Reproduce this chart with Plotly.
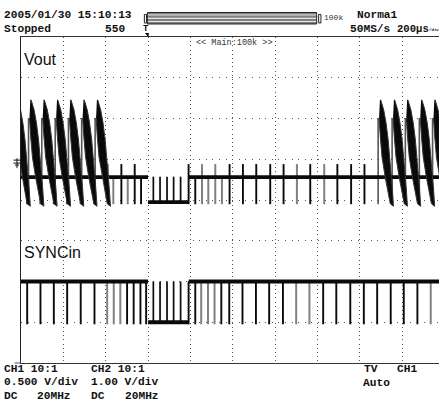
import plotly.graph_objects as go

# ---- data (time in microseconds, trigger = 0; volts per channel) ----
T_RANGE = [-600, 1374]
CH1_RANGE = [-2.453, 1.548]
CH2_RANGE = [-1.0, 7.0]

burst_starts = [-619, -555, -492.5, -429, -366.5, -304, -240.5, 1096, 1162, 1224.5, 1290.5, 1353]
burst_dt = [-1, 3, 17, 28, 38, 46, 53, 58, 63, 48, 24, 9, 1, -5]
burst_v = [.774, .774, .651, .491, .283, .074, -.172, -.332, -.53, -.50, -.172, .074, .319, .553]
burst_stripe_dt = -9.4
burst_stripe_top = 0.553

ch1_high = -0.172
ch1_low = -0.479
ch1_bottom = -0.504
ch1_tall_top = -0.012
ch1_up_top = -0.166

ch1_tall_black = [-126, -63, 191.5, 385, 448, 511, 577, 640, 766, 894, 959, 1022]
ch1_tall_gray = [-189.6, 254.7, 317.5, 703, 832]
ch1_short_black = [-570.8, -508, -445, -382, -318, -253, -33, 223]
ch1_short_gray = [-164, -96, 284.5, 349]
low_zone_pulses = [25, 56.6, 89.6, 120.7, 153.7]
low_zone = [0, 192]

ch2_high = 1.0
ch2_low = 0.0
ch2_bottom = -0.05
ch2_black = [-570.8, -508, -445, -382, -318, -253, -99, -68, -36, -9, 191.5, 223, 346, 383.5, 446, 509.5,
             572, 637, 827, 889, 955, 1019, 1082, 1146, 1207.6, 1272]
ch2_gray = [-193, -162, -131, 251, 283, 314, 699.5, 762, 1335]

label_ch1 = "Vout"
label_ch2 = "SYNCin"

# ---- layout in pixels ----
W, H = 439, 403
L, R, T, B = 20.5, 439, 37, 362.7
MONO = "Liberation Mono"


def px(x):
    return (x - L) / (R - L)


def py(y):
    return (B - y) / (B - T)


def pulses(times, lo, hi):
    xs, ys = [], []
    for t in times:
        xs += [t, t, None]
        ys += [lo, hi, None]
    return xs, ys


def burst_polys():
    xs, ys = [], []
    for s in burst_starts:
        xs += [s + d for d in burst_dt] + [None]
        ys += list(burst_v) + [None]
    return xs, ys


def level_lines(lo_val, hi_val):
    return ([T_RANGE[0], low_zone[0], None, low_zone[0], low_zone[1], None, low_zone[1], T_RANGE[1]],
            [hi_val, hi_val, None, lo_val, lo_val, None, hi_val, hi_val])


fig = go.Figure()


def line(xs, ys, axis, color, width):
    fig.add_trace(go.Scatter(x=xs, y=ys, yaxis=axis, mode="lines", hoverinfo="skip", showlegend=False,
                             line=dict(color=color, width=width)))


BLACK, GRAY = "#0a0a0a", "#808080"

# CH1 pulses
line(*pulses(ch1_tall_gray, ch1_bottom, ch1_tall_top), "y", GRAY, 2)
line(*pulses(ch1_short_gray, ch1_bottom, ch1_high), "y", GRAY, 2)
line(*pulses(ch1_tall_black, ch1_bottom, ch1_tall_top), "y", BLACK, 1.9)
line(*pulses(ch1_short_black, ch1_bottom, ch1_high), "y", BLACK, 1.9)
line(*pulses(low_zone_pulses, ch1_low, ch1_up_top), "y", BLACK, 1.7)
line(*pulses([s + burst_stripe_dt for s in burst_starts], ch1_bottom, burst_stripe_top), "y", "#555555", 1.6)
# CH1 levels
line(*level_lines(ch1_low, ch1_high), "y", BLACK, 3.6)
# CH1 colour-burst envelopes
bx, by = burst_polys()
fig.add_trace(go.Scatter(x=bx, y=by, yaxis="y", mode="lines", fill="toself", fillcolor=BLACK,
                         hoverinfo="skip", showlegend=False, line=dict(color="#333333", width=1)))

# CH2
line(*pulses(ch2_gray, ch2_bottom, ch2_high), "y2", GRAY, 2)
line(*pulses(ch2_black, ch2_bottom, ch2_high), "y2", BLACK, 1.9)
line(*pulses(low_zone_pulses, ch2_low, ch2_high), "y2", BLACK, 1.7)
line(*level_lines(ch2_low, ch2_high), "y2", BLACK, 3.8)

shapes = []


def pshape(kind, x0, y0, x1, y1, **kw):
    shapes.append(dict(type=kind, xref="paper", yref="paper", x0=px(x0), x1=px(x1), y0=py(y0), y1=py(y1), **kw))


def seg(x0, y0, x1, y1, color="#111111", w=1):
    pshape("line", x0, y0, x1, y1, line=dict(color=color, width=w))


# bottom frame stub and ground marker
seg(14, B, L, B, "#555555")
seg(13, 160, 20, 160)
seg(13, 163, 20, 163)
seg(14.5, 165, 18.5, 165)
seg(16.5, 158, 16.5, 168)

# memory bar at the top
pshape("rect", 147, 12.5, 316.5, 24, fillcolor="#808080", line=dict(color="#222222", width=1))
seg(147.5, 15, 316, 15, "#e8e8e8", 1)
seg(147.5, 18.3, 316, 18.3, "#ffffff", 1)
seg(147.5, 21.5, 316, 21.5, "#e8e8e8", 1)
pshape("rect", 144, 14.5, 146.2, 23, line=dict(color="#222222", width=1))
pshape("rect", 318.5, 14.5, 320.8, 23, line=dict(color="#222222", width=1))
# trigger marker
shapes.append(dict(type="path", xref="paper", yref="paper", fillcolor="#000000", line=dict(width=0),
                   path=f"M {px(144.5)} {py(33)} L {px(148.5)} {py(33)} L {px(148)} {py(37)} Z"))

fig.update_layout(
    width=W, height=H, autosize=False,
    margin=dict(l=L, r=W - R, t=T, b=H - B),
    paper_bgcolor="white", plot_bgcolor="white",
    showlegend=False,
    xaxis=dict(range=T_RANGE, tick0=-600, dtick=200, showgrid=True, griddash="1px,3.2px", gridcolor="#555555",
               gridwidth=1, zeroline=False, showticklabels=False, ticks="",
               showline=True, linecolor="#333333", linewidth=1, mirror=True, fixedrange=True),
    yaxis=dict(range=CH1_RANGE, showgrid=False, zeroline=False, showticklabels=False, ticks="",
               showline=True, linecolor="#222222", linewidth=1.2, fixedrange=True),
    yaxis2=dict(range=CH2_RANGE, overlaying="y", side="right", tick0=-1, dtick=1, showgrid=True,
                griddash="1px,5.6px", gridcolor="#555555", gridwidth=1, zeroline=False,
                showticklabels=False, ticks="", showline=False, fixedrange=True),
    shapes=shapes,
)


def text(s, x, y, size=11.2, family=MONO, bold=True, color="#111111"):
    fig.add_annotation(xref="paper", yref="paper", x=px(x), y=py(y), xanchor="left", yanchor="middle",
                       text=f"<b>{s}</b>" if bold else s, showarrow=False, borderpad=0, borderwidth=0,
                       font=dict(family=family, size=size, color=color))


text("2005/01/30 15:10:13", 3.5, 15.5)
text("Stopped", 3.5, 29.5)
text("550", 105, 29.5)
text("Norma1", 357, 15.5)
text("50MS/s", 350, 29.5)
text("200µs", 397, 29.5, size=10.6)
text("/div", 428.6, 30, size=4.1)
text("100k", 324, 17.5, size=8, bold=False, color="#333333")
text("&lt;&lt; Main:100k &gt;&gt;", 196, 43, size=8.5, bold=False, color="#333333")
text("T", 143, 29.5, size=9)
text(label_ch1, 24, 59.5, size=16, family="Liberation Sans", bold=False)
text(label_ch2, 24, 252, size=16, family="Liberation Sans", bold=False)
text("CH1 10:1", 3.5, 368.5)
text("CH2 10:1", 91, 368.5)
text("0.500 V/div", 3.5, 382)
text("1.00 V/div", 91, 382)
text("DC", 3.5, 395.5)
text("20MHz", 37, 395.5)
text("DC", 91, 395.5)
text("20MHz", 125, 395.5)
text("TV", 363.5, 368.5)
text("CH1", 397, 368.5)
text("Auto", 363, 382.5)

fig.write_html("out.html", config=dict(displayModeBar=False, staticPlot=True),
               post_script="document.body.style.margin='0';document.body.style.overflow='hidden';")
